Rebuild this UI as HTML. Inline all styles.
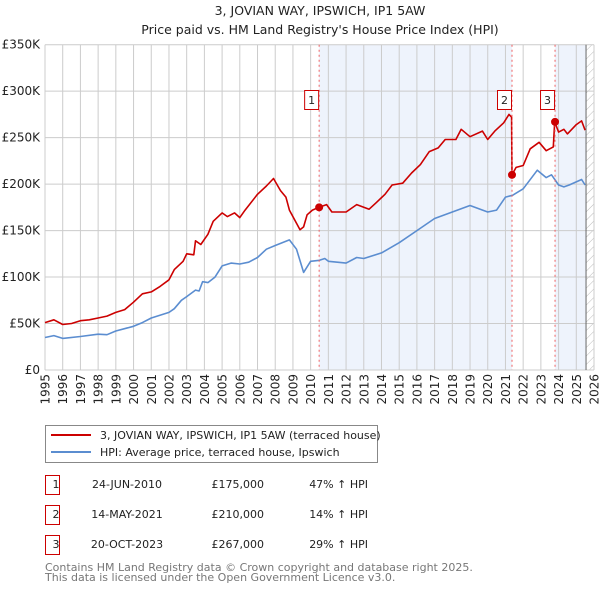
<!DOCTYPE html>
<html><head><meta charset="utf-8"><style>
body{margin:0;background:#fff;}
svg{display:block;font-family:"DejaVu Sans","Liberation Sans",sans-serif;}
</style></head><body>
<svg id="c" width="600" height="590" viewBox="0 0 600 590">
<defs><pattern id="hatch" width="6" height="6" patternUnits="userSpaceOnUse" patternTransform="rotate(45)"><line x1="0" y1="0" x2="0" y2="6" stroke="#bbb" stroke-width="1"/></pattern></defs>
<text x="320" y="15" text-anchor="middle" font-size="12.5" fill="#222">3, JOVIAN WAY, IPSWICH, IP1 5AW</text>
<text x="320" y="34" text-anchor="middle" font-size="12.5" fill="#222">Price paid vs. HM Land Registry's House Price Index (HPI)</text>
<g id="bg"></g><g id="grid"></g><g id="series"></g><g id="marks"></g><g id="axes"></g>
<g>
<rect x="45.5" y="425.5" width="332" height="37" fill="#fff" stroke="#888"/>
<line x1="51" y1="435" x2="91" y2="435" stroke="#cc0000" stroke-width="2"/>
<text x="100" y="439" font-size="11" fill="#222">3, JOVIAN WAY, IPSWICH, IP1 5AW (terraced house)</text>
<line x1="51" y1="452" x2="91" y2="452" stroke="#5b8dd0" stroke-width="2"/>
<text x="100" y="456" font-size="11" fill="#222">HPI: Average price, terraced house, Ipswich</text>
</g>
<g id="table" font-size="11" fill="#222"></g>
<text x="45" y="571" font-size="11" fill="#777">Contains HM Land Registry data © Crown copyright and database right 2025.</text>
<text x="45" y="581" font-size="11" fill="#777">This data is licensed under the Open Government Licence v3.0.</text>
</svg>
<script>
const years=[1995,1995.5,1996,1996.5,1997,1997.5,1998,1998.5,1999,1999.5,2000,2000.5,2001,2001.5,2002,2002.3,2002.8,2003,2003.4,2003.5,2003.8,2004.2,2004.5,2005,2005.3,2005.7,2006,2006.3,2007,2007.5,2007.9,2008.3,2008.6,2008.8,2009.2,2009.4,2009.6,2009.8,2010.1,2010.48,2010.9,2011.2,2012,2012.6,2013.3,2013.7,2014.2,2014.6,2015.2,2015.7,2016.2,2016.7,2017.2,2017.6,2018.2,2018.5,2019,2019.7,2020,2020.4,2020.9,2021.2,2021.35];
const price=[51,54,49,50,53,54,56,58,62,65,73,82,84,90,97,108,117,125,124,139,135,146,160,169,165,169,164,172,189,198,206,193,186,172,158,151,154,167,172,175,178,170,170,178,173,180,189,199,201,212,221,235,239,248,248,259,251,257,248,257,266,275,272];
const years2=[2021.37,2021.6,2022,2022.4,2022.9,2023.3,2023.7,2023.78,2024,2024.3,2024.5,2025,2025.3,2025.5];
const price2=[210,218,220,238,245,236,240,267,256,259,254,264,268,258];
const hpiYears=[1995,1995.5,1996,1997,1998,1998.5,1999,2000,2000.5,2001,2002,2002.3,2002.7,2003,2003.5,2003.7,2003.9,2004.2,2004.6,2005,2005.5,2006,2006.5,2007,2007.5,2008,2008.8,2009.2,2009.6,2010,2010.5,2010.8,2011,2012,2012.6,2013,2014,2015,2016,2017,2018,2019,2020,2020.5,2021,2021.4,2022,2022.8,2023.3,2023.6,2024,2024.3,2024.6,2025.3,2025.5];
const hpi=[35,37,34,36,38.5,38,42,47,51,56,62,66,75,79,86,85,95,94,100,112,115,114,116,121,130,134,140,130,105,117,118,120,117,115,121,120,126,137,150,163,170,177,170,172,186,188,195,215,207,210,199,197,199,205,199];
const saleYears=[2010.48,2021.37,2023.8];
const salePrices=[175,210,267];
const saleDates=["24-JUN-2010","14-MAY-2021","20-OCT-2023"];
const saleLabels=["£175,000","£210,000","£267,000"];
const salePct=["47% ↑ HPI","14% ↑ HPI","29% ↑ HPI"];
const yTicks=[0,50,100,150,200,250,300,350];
const yTickLabels=["£0","£50K","£100K","£150K","£200K","£250K","£300K","£350K"];
const xTicks=[1995,1996,1997,1998,1999,2000,2001,2002,2003,2004,2005,2006,2007,2008,2009,2010,2011,2012,2013,2014,2015,2016,2017,2018,2019,2020,2021,2022,2023,2024,2025,2026];
const dataEnd=2025.55;

const NS="http://www.w3.org/2000/svg";
const X0=45,X1=594,Y0=370,Y1=44.7;
const x=y=>X0+(y-1995)*(X1-X0)/31;
const yv=v=>Y0-v*(Y0-Y1)/350;
function mk(tag,attrs,parent,txt){const e=document.createElementNS(NS,tag);for(const k in attrs)e.setAttribute(k,attrs[k]);if(txt!=null)e.textContent=txt;document.getElementById(parent).appendChild(e);return e;}

let r=mk('rect',{x:x(saleYears[0]),y:Y1,width:x(saleYears[1])-x(saleYears[0]),height:Y0-Y1,fill:'#eef3fc'},'bg');


r=mk('rect',{x:x(saleYears[2]),y:Y1,width:x(dataEnd)-x(saleYears[2]),height:Y0-Y1,fill:'#eef3fc'},'bg');


r=mk('rect',{x:x(dataEnd),y:Y1,width:X1-x(dataEnd),height:Y0-Y1,fill:'url(#hatch)'},'bg');



yTicks.forEach((t,i)=>{
 let l=mk('line',{x1:X0,x2:X1,y1:yv(t),y2:yv(t),stroke:'#ccc','stroke-width':1},'grid');
 
 
 let tx=mk('text',{x:40,y:yv(t)+4,'text-anchor':'end','font-size':12,fill:'#222'},'axes',yTickLabels[i]);
 
 
});
xTicks.forEach(t=>{
 let l=mk('line',{x1:x(t),x2:x(t),y1:Y1,y2:Y0,stroke:'#ccc','stroke-width':1},'grid');
 
 
 let tx=mk('text',{x:0,y:0,'text-anchor':'end','font-size':12,fill:'#222',transform:`translate(${x(t)+4.5},374) rotate(-90)`},'axes',String(t));
 
 
});
let pl=mk('line',{x1:x(dataEnd),x2:x(dataEnd),y1:Y1,y2:Y0,stroke:'#666','stroke-width':1},'grid');



const pts=(xs,vs)=>xs.map((a,i)=>x(a).toFixed(1)+','+yv(vs[i]).toFixed(1)).join(' ');
let h=mk('polyline',{points:pts(hpiYears,hpi),fill:'none',stroke:'#5b8dd0','stroke-width':1.6,'stroke-linejoin':'round'},'series');


let p=mk('polyline',{points:pts(years.concat(years2),price.concat(price2)),fill:'none',stroke:'#cc0000','stroke-width':1.6,'stroke-linejoin':'round'},'series');



saleYears.forEach((s,i)=>{
 let l=mk('line',{x1:x(s),x2:x(s),y1:Y1,y2:Y0,stroke:'#f06060','stroke-width':1,'stroke-dasharray':'2,3'},'marks');
 
 
 let c=mk('circle',{cx:x(s),cy:yv(salePrices[i]),r:4,fill:'#cc0000'},'marks');
 
 
 let b=mk('rect',{x:x(s)-14.5,y:90.5,width:14,height:19,fill:'#fff',stroke:'#cc0000'},'marks');
 
 
 let t=mk('text',{x:x(s)-7.5,y:104,'text-anchor':'middle','font-size':11,fill:'#222'},'marks',String(i+1));
 
 
 const ry=475+i*30;
 let tb=mk('rect',{x:45.5,y:ry+0.5,width:14,height:19,fill:'#fff',stroke:'#cc0000'},'table');
 
 
 let tn=mk('text',{x:52.5,y:ry+13},'table',String(i+1));
 
 
 let td=mk('text',{x:127,y:ry+13,'text-anchor':'middle'},'table',saleDates[i]);
 
 
 let tp=mk('text',{x:264,y:ry+13,'text-anchor':'end'},'table',saleLabels[i]);
 
 
 let tc=mk('text',{x:368,y:ry+13,'text-anchor':'end'},'table',salePct[i]);
 
 
});
</script>
</body></html>
